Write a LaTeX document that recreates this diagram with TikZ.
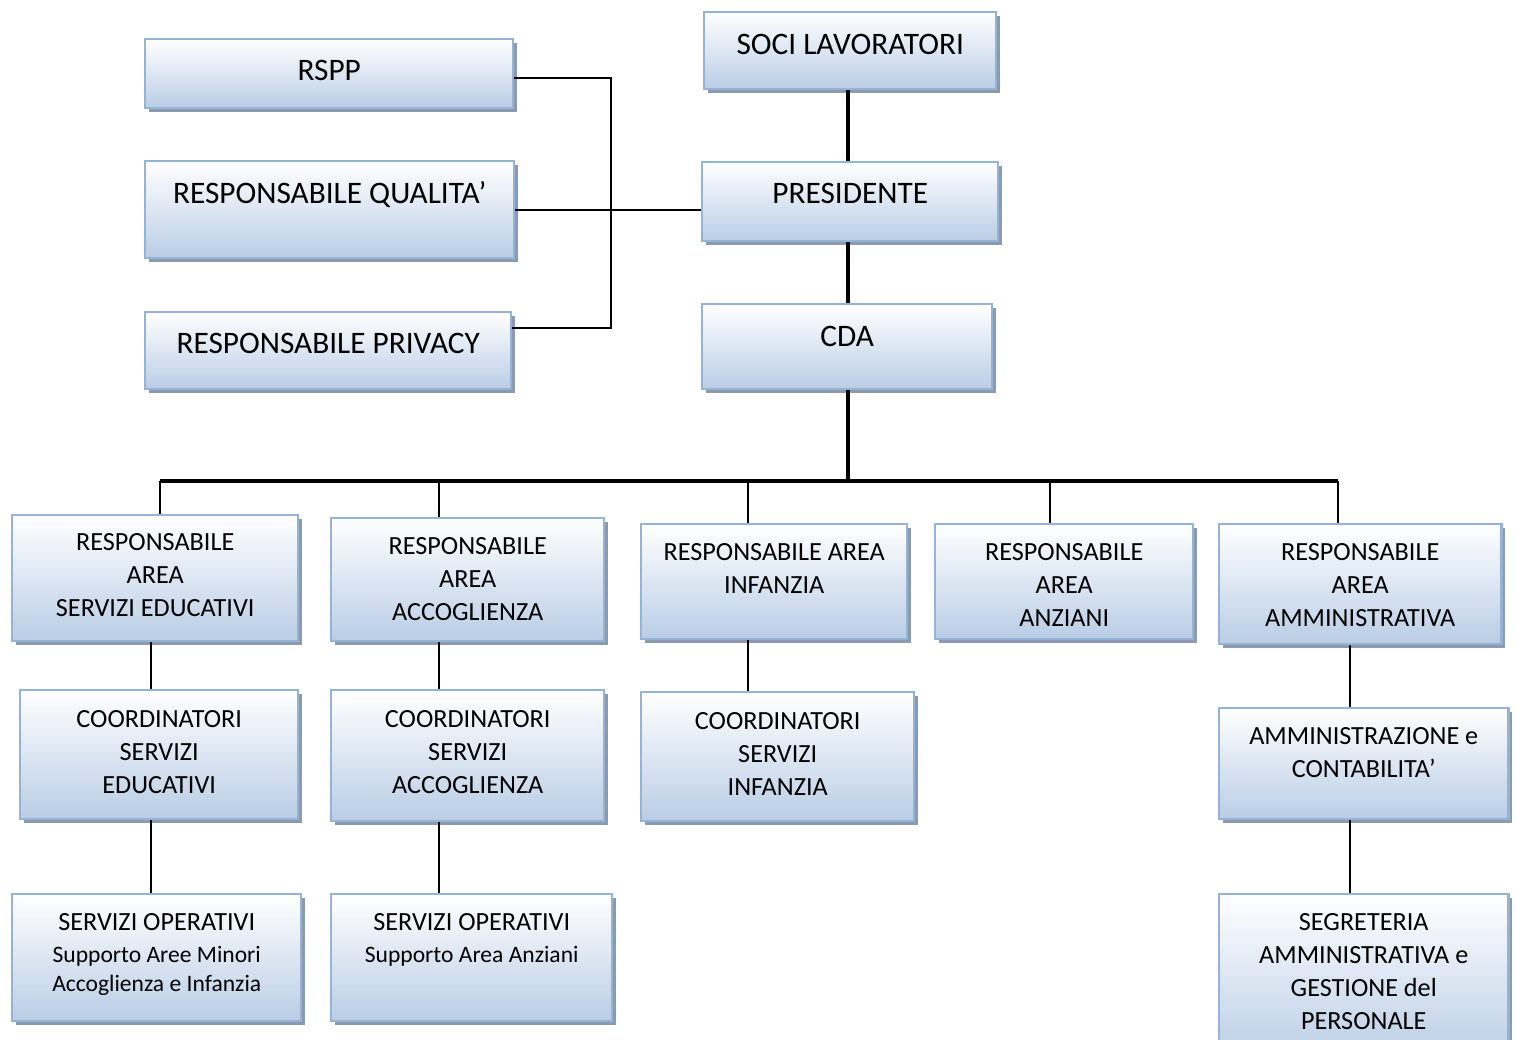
\documentclass[tikz,border=0pt]{standalone}
\usepackage{fontspec}
\setmainfont{Carlito}
\usetikzlibrary{shadows}
\definecolor{bdr}{RGB}{149,179,215}
\definecolor{bfill}{RGB}{185,205,229}
\definecolor{shd}{RGB}{140,154,174}
\tikzset{
  obox/.style={draw=bdr, line width=0.7pt, top color=white, bottom color=bfill,
    drop shadow={shadow xshift=1.2pt, shadow yshift=-1.2pt, fill=shd, opacity=1},
    inner sep=0pt},
  bigtxt/.style={anchor=north, inner sep=0pt, align=center, font=\fontsize{8.9}{11}\selectfont},
  midtxt/.style={anchor=north, inner sep=0pt, align=center, font=\fontsize{7.45}{9.4}\selectfont},
  smltxt/.style={anchor=north, inner sep=0pt, align=center, font=\fontsize{6.7}{8.3}\selectfont},
  trunk/.style={line width=0.9pt},
  side/.style={line width=0.6pt},
  thin/.style={line width=0.45pt}
}
\newcommand\orgbox[5]{%
  \pgfmathsetmacro\obw{(#4-#2)*0.01}%
  \pgfmathsetmacro\obh{(#5-#3)*0.01}%
  \node[obox, minimum width=\obw cm, minimum height=\obh cm, anchor=north west] (#1) at (#2,#3) {};%
}
\begin{document}
\begin{tikzpicture}[x=0.01cm,y=-0.01cm]
\clip (0,0) rectangle (1516,1039);
\fill[white] (0,0) rectangle (1516,1039);
% connectors
\coordinate (r1) at (611,78);
\coordinate (r3) at (611,328);
\coordinate (busc) at (848,481);
\coordinate (d1) at (160,481);
\coordinate (d2) at (439,481);
\coordinate (d3) at (748,481);
\coordinate (d4) at (1050,481);
\coordinate (d5) at (1338,481);
\coordinate (v1) at (151,0);
\coordinate (v2) at (439,0);
\coordinate (v3) at (748,0);
\coordinate (v5) at (1350,0);
% boxes
\orgbox{soci}{703}{11}{995}{88}
\orgbox{pres}{701}{161}{997}{240}
\orgbox{cda}{701}{303}{991}{388}
\orgbox{rspp}{144}{38}{512}{107}
\orgbox{qual}{144}{160}{513}{257}
\orgbox{priv}{144}{311}{510}{388}
\orgbox{b1}{11}{514}{297}{640}
\orgbox{b2}{330}{517}{603}{640}
\orgbox{b3}{640}{523}{906}{638}
\orgbox{b4}{934}{523}{1192}{638}
\orgbox{b5}{1218}{523}{1500}{643}
\orgbox{c1}{19}{689}{297}{818}
\orgbox{c2}{330}{689}{603}{820}
\orgbox{c3}{640}{691}{913}{820}
\orgbox{a5}{1218}{707}{1507}{818}
\orgbox{s1}{11}{893}{300}{1020}
\orgbox{s2}{330}{893}{611}{1020}
\orgbox{s3}{1218}{893}{1507}{1060}
% texts
\node[bigtxt, yshift=-0.22cm] (socit) at (soci.north) {SOCI LAVORATORI};
\node[bigtxt, yshift=-0.21cm] (prest) at (pres.north) {PRESIDENTE};
\node[bigtxt, yshift=-0.22cm] (cdat) at (cda.north) {CDA};
\node[bigtxt, yshift=-0.21cm] (rsppt) at (rspp.north) {RSPP};
\node[bigtxt, yshift=-0.21cm] (qualt) at (qual.north) {RESPONSABILE QUALITA’};
\node[bigtxt, yshift=-0.21cm] (privt) at (priv.north) {RESPONSABILE PRIVACY};
\node[midtxt, yshift=-0.185cm] (b1t) at (b1.north) {RESPONSABILE\\AREA\\SERVIZI EDUCATIVI};
\node[midtxt, yshift=-0.195cm] (b2t) at (b2.north) {RESPONSABILE\\AREA\\ACCOGLIENZA};
\node[midtxt, yshift=-0.195cm] (b3t) at (b3.north) {RESPONSABILE AREA\\INFANZIA};
\node[midtxt, yshift=-0.195cm] (b4t) at (b4.north) {RESPONSABILE\\AREA\\ANZIANI};
\node[midtxt, yshift=-0.195cm] (b5t) at (b5.north) {RESPONSABILE\\AREA\\AMMINISTRATIVA};
\node[midtxt, yshift=-0.205cm] (c1t) at (c1.north) {COORDINATORI\\SERVIZI\\EDUCATIVI};
\node[midtxt, yshift=-0.205cm] (c2t) at (c2.north) {COORDINATORI\\SERVIZI\\ACCOGLIENZA};
\node[midtxt, yshift=-0.205cm] (c3t) at (c3.north) {COORDINATORI\\SERVIZI\\INFANZIA};
\node[midtxt, yshift=-0.195cm] (a5t) at (a5.north) {AMMINISTRAZIONE e\\CONTABILITA’};
\node[smltxt, yshift=-0.195cm] (s1t) at (s1.north) {{\fontsize{7.45}{9.4}\selectfont SERVIZI OPERATIVI}\\[0.8pt]Supporto Aree Minori\\Accoglienza e Infanzia};
\node[smltxt, yshift=-0.195cm] (s2t) at (s2.north) {{\fontsize{7.45}{9.4}\selectfont SERVIZI OPERATIVI}\\[0.8pt]Supporto Area Anziani};
\node[midtxt, yshift=-0.195cm] (s3t) at (s3.north) {SEGRETERIA\\AMMINISTRATIVA e\\GESTIONE del\\PERSONALE};
% lines
\draw[trunk] (soci.south -| busc) -- (pres.north -| busc);
\draw[trunk] (pres.south -| busc) -- (cda.north -| busc);
\draw[trunk] (cda.south -| busc) -- (busc);
\draw[trunk] (d1) -- (d5);
\draw[side] (rspp.east |- r1) -- (r1) -- (r3) -- (priv.east |- r3);
\draw[side] (qual.east) -- (pres.west |- qual.east);
\draw[thin] (d1) -- (d1 |- b1.north);
\draw[thin] (d2) -- (d2 |- b2.north);
\draw[thin] (d3) -- (d3 |- b3.north);
\draw[thin] (d4) -- (d4 |- b4.north);
\draw[thin] (d5) -- (d5 |- b5.north);
\draw[thin] (b1.south -| v1) -- (c1.north -| v1);
\draw[thin] (c1.south -| v1) -- (s1.north -| v1);
\draw[thin] (b2.south -| v2) -- (c2.north -| v2);
\draw[thin] (c2.south -| v2) -- (s2.north -| v2);
\draw[thin] (b3.south -| v3) -- (c3.north -| v3);
\draw[thin] (b5.south -| v5) -- (a5.north -| v5);
\draw[thin] (a5.south -| v5) -- (s3.north -| v5);
\end{tikzpicture}
\end{document}
